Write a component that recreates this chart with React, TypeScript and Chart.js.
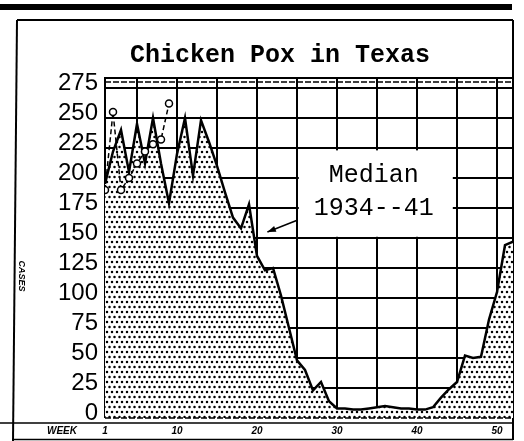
import React, { useEffect, useRef } from 'react';
import { Chart, registerables } from 'chart.js';

Chart.register(...registerables);

// ---- data ----
const weeks = [1, 2, 3, 4, 5, 6, 7, 8, 9, 10, 11, 12, 13, 14, 15, 16, 17, 18, 19, 20, 21, 22, 23, 24, 25, 26,
  27, 28, 29, 30, 31, 32, 33, 34, 35, 36, 37, 38, 39, 40, 41, 42, 43, 44, 45, 46, 47, 48, 49, 50, 51, 52];
const medianCases = [195, 222, 240, 205, 245, 212, 250, 212, 179, 220, 250, 202, 248, 230, 210, 188, 167, 158, 178, 135,
  123, 125, 102, 75, 48, 40, 23, 30, 14, 8, 8, 7, 7, 8, 9, 10, 9, 8, 8, 7,
  7, 9, 17, 24, 30, 52, 50, 51, 82, 105, 144, 147];
const currentWeeks = [1, 2, 3, 4, 5, 6, 7, 8, 9];
const currentCases = [190, 255, 190, 200, 212, 222, 228, 232, 262];
const yTickValues = [0, 25, 50, 75, 100, 125, 150, 175, 200, 225, 250, 275];
const yMax = 283.3;
const xGridWeeks = [1, 5, 10, 15, 20, 25, 30, 35, 40, 45, 50, 52];
const xLabelWeeks = [1, 10, 20, 30, 40, 50];
const titleText = 'Chicken Pox in Texas';
const noteLines = ['Median', '1934--41'];

function makeStipple(): CanvasPattern | string {
  const c = document.createElement('canvas');
  c.width = 10;
  c.height = 10;
  const p = c.getContext('2d');
  if (!p) return '#ccc';
  p.fillStyle = '#fff';
  p.fillRect(0, 0, 10, 10);
  p.fillStyle = '#000';
  const dots = [[2, 2], [7, 2], [4.5, 7], [9.5, 7], [-0.5, 7]];
  for (const [dx, dy] of dots) {
    p.beginPath();
    p.arc(dx, dy, 1.25, 0, Math.PI * 2);
    p.fill();
  }
  const pat = p.createPattern(c, 'repeat');
  return pat || '#ccc';
}

function line(ctx: CanvasRenderingContext2D, x1: number, y1: number, x2: number, y2: number) {
  ctx.beginPath();
  ctx.moveTo(x1, y1);
  ctx.lineTo(x2, y2);
  ctx.stroke();
}

const decorPlugin = {
  id: 'decor',
  beforeDraw(chart: any) {
    const ctx: CanvasRenderingContext2D = chart.ctx;
    const { right } = chart.chartArea;
    ctx.save();
    ctx.fillStyle = '#fff';
    ctx.fillRect(0, 0, chart.width, chart.height);
    ctx.fillStyle = '#000';
    ctx.fillRect(0, 4, right - 1, 6);
    ctx.strokeStyle = '#000';
    ctx.lineWidth = 2;
    line(ctx, 17, 20, right, 20);
    line(ctx, 17, 20, 13, chart.height);
    line(ctx, right, 20, right, chart.height - 1);
    ctx.restore();
  },
  afterDraw(chart: any) {
    const ctx: CanvasRenderingContext2D = chart.ctx;
    const xs = chart.scales.x;
    const ys = chart.scales.y;
    const { left, right, top, bottom } = chart.chartArea;
    ctx.save();
    ctx.strokeStyle = '#000';
    // dashed band at top
    ctx.lineWidth = 1.5;
    ctx.setLineDash([6, 2]);
    line(ctx, left, top + 4, right, top + 4);
    // dashed zero line
    const y0 = ys.getPixelForValue(0);
    line(ctx, left, y0, right, y0);
    ctx.setLineDash([]);
    // bottom strip
    ctx.lineWidth = 1.5;
    line(ctx, 0, bottom + 5, right, bottom + 5);
    line(ctx, 13, chart.height - 1.5, right, chart.height - 1.5);
    // WEEK label
    ctx.fillStyle = '#000';
    ctx.font = 'italic bold 10px "Liberation Sans"';
    ctx.textAlign = 'center';
    ctx.textBaseline = 'middle';
    ctx.fillText('WEEK', 62, bottom + 13);
    // CASES label
    ctx.save();
    ctx.translate(21, 276);
    ctx.rotate(Math.PI / 2);
    ctx.font = 'italic bold 9px "Liberation Sans"';
    ctx.fillText('CASES', 0, 0);
    ctx.restore();
    // annotation box
    const bx1 = xs.getPixelForValue(25.1);
    const bx2 = xs.getPixelForValue(44.6);
    const by1 = ys.getPixelForValue(223);
    const by2 = ys.getPixelForValue(151);
    ctx.fillStyle = '#fff';
    ctx.fillRect(bx1 + 1, by1, bx2 - bx1 - 2, by2 - by1);
    ctx.fillStyle = '#000';
    ctx.font = '25px "Liberation Mono"';
    const cx = xs.getPixelForValue(34.6);
    ctx.fillText(noteLines[0], cx, ys.getPixelForValue(202));
    ctx.fillText(noteLines[1], cx, ys.getPixelForValue(175));
    // arrow
    const ax1 = xs.getPixelForValue(25.1);
    const ay1 = ys.getPixelForValue(165);
    const ax2 = xs.getPixelForValue(21.3);
    const ay2 = ys.getPixelForValue(155);
    ctx.lineWidth = 1.5;
    line(ctx, ax1, ay1, ax2, ay2);
    const ang = Math.atan2(ay2 - ay1, ax2 - ax1);
    ctx.beginPath();
    ctx.moveTo(ax2, ay2);
    ctx.lineTo(ax2 - 9 * Math.cos(ang - 0.35), ay2 - 9 * Math.sin(ang - 0.35));
    ctx.lineTo(ax2 - 9 * Math.cos(ang + 0.35), ay2 - 9 * Math.sin(ang + 0.35));
    ctx.closePath();
    ctx.fill();
    ctx.restore();
  },
};

export default function App() {
  const ref = useRef<HTMLCanvasElement | null>(null);
  useEffect(() => {
    if (!ref.current) return;
    const stipple = makeStipple();
    const chart = new Chart(ref.current, {
      type: 'line',
      data: {
        datasets: [
          {
            label: 'Current year',
            data: currentWeeks.map((w, i) => ({ x: w, y: currentCases[i] })),
            borderColor: '#000',
            borderWidth: 1.5,
            borderDash: [5, 3],
            pointRadius: 3.5,
            pointBackgroundColor: '#fff',
            pointBorderColor: '#000',
            pointBorderWidth: 1.5,
            fill: false,
            tension: 0,
          },
          {
            label: 'Median 1934--41',
            data: weeks.map((w, i) => ({ x: w, y: medianCases[i] })),
            borderColor: '#000',
            borderWidth: 2.5,
            backgroundColor: stipple as any,
            pointRadius: 0,
            fill: 'origin',
            tension: 0,
          },
        ],
      },
      options: {
        animation: false,
        responsive: false,
        events: [],
        layout: { padding: { left: 47, right: 11, top: 0, bottom: 3 } },
        plugins: {
          legend: { display: false },
          tooltip: { enabled: false },
          title: {
            display: true,
            text: titleText,
            color: '#000',
            font: { family: '"Liberation Mono"', size: 25, weight: 'bold', lineHeight: 1.2 },
            padding: { top: 41, bottom: 7 },
          },
        },
        scales: {
          x: {
            type: 'linear',
            min: 1,
            max: 52,
            z: 1,
            afterFit: (s: any) => { s.height = 20; },
            afterBuildTicks: (s: any) => { s.ticks = xGridWeeks.map((v) => ({ value: v })); },
            border: { display: false },
            grid: { color: '#000', lineWidth: 2, drawTicks: false },
            ticks: {
              autoSkip: false,
              maxRotation: 0,
              padding: 7,
              color: '#000',
              font: { family: '"Liberation Sans"', size: 10, style: 'italic', weight: 'bold' },
              callback: (v: any) => (xLabelWeeks.includes(Number(v)) ? String(v) : ''),
            },
          },
          y: {
            type: 'linear',
            min: 0,
            max: yMax,
            z: 1,
            afterFit: (s: any) => { s.width = 58; },
            afterBuildTicks: (s: any) => { s.ticks = [...yTickValues, yMax].map((v) => ({ value: v })); },
            border: { display: true, color: '#000', width: 2 },
            grid: {
              color: '#000',
              lineWidth: (c: any) => (c.tick && c.tick.value === 0 ? 0 : 2),
              drawTicks: false,
            },
            ticks: {
              autoSkip: false,
              padding: 7,
              labelOffset: -5,
              color: '#000',
              font: { family: '"Liberation Sans"', size: 24 },
              callback: (v: any) => (yTickValues.includes(Number(v)) ? String(v) : ''),
            },
          },
        },
      },
      plugins: [decorPlugin],
    } as any);
    return () => chart.destroy();
  }, []);
  return (
    <div style={{ position: 'absolute', left: 0, top: 0, width: 524, height: 441, background: '#fff' }}>
      <canvas ref={ref} width={524} height={441} style={{ display: 'block' }} />
    </div>
  );
}
